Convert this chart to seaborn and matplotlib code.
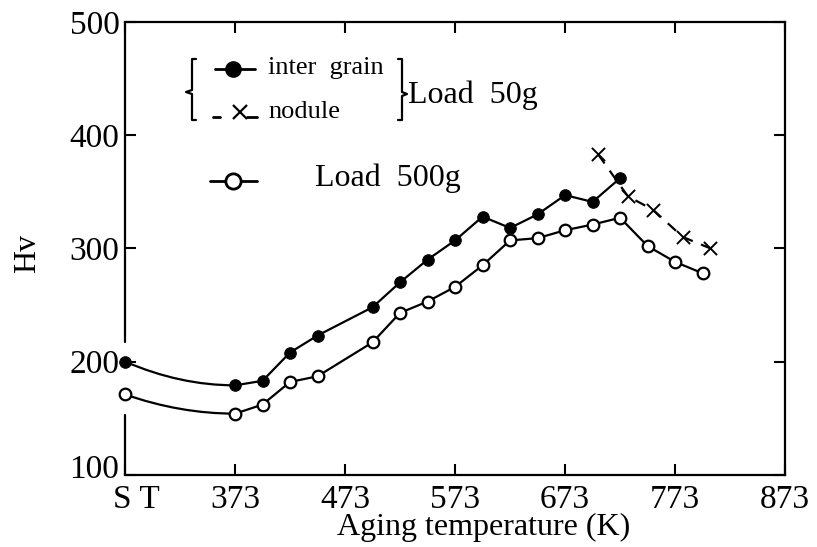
import numpy as np
import pandas as pd
import seaborn as sns
import matplotlib.pyplot as plt
import matplotlib.transforms as mtransforms
from matplotlib.path import Path
from matplotlib.patches import PathPatch
from matplotlib.lines import Line2D

# aging temperature (K); 273 is drawn as "S T"
temp_50g = [273, 373, 398, 423, 448, 498, 523, 548, 573, 598, 623, 648, 673, 698, 723]
hv_inter = [200, 179, 183, 208, 223, 248, 270, 290, 307, 328, 318, 330, 347, 341, 362]

temp_500g = [273, 373, 398, 423, 448, 498, 523, 548, 573, 598, 623, 648, 673, 698, 723, 748, 773, 798]
hv_500g = [171, 154, 162, 182, 187, 217, 243, 253, 266, 285, 307, 309, 316, 321, 327, 302, 288, 278]

temp_nodule = [703, 730, 753, 780, 805]
hv_nodule = [383, 346, 334, 310, 300]

xticks = [273, 373, 473, 573, 673, 773, 873]
xticklabels = ['S T', '373', '473', '573', '673', '773', '873']
yticks = [100, 200, 300, 400, 500]

sns.set_style('ticks')
plt.rcParams['font.family'] = ['Liberation Serif', 'DejaVu Serif']
for key in ['text.color', 'axes.labelcolor', 'xtick.color', 'ytick.color', 'axes.edgecolor']:
    plt.rcParams[key] = 'black'

fig = plt.figure(figsize=(8.17, 5.47), dpi=100)
ax = fig.add_axes([0.153, 0.132, 0.808, 0.828])

inter = pd.DataFrame({'T': temp_50g, 'Hv': hv_inter})
load500 = pd.DataFrame({'T': temp_500g, 'Hv': hv_500g})
nodule = pd.DataFrame({'T': temp_nodule, 'Hv': hv_nodule})


def curve_start(df):
    # smooth bend from S T to the first aged point
    p0 = (df['T'][0], df['Hv'][0])
    p1 = (df['T'][1], df['Hv'][1])
    ctrl = ((p0[0] + p1[0]) / 2, p1[1])
    path = Path([p0, ctrl, p1], [Path.MOVETO, Path.CURVE3, Path.CURVE3])
    ax.add_patch(PathPatch(path, fill=False, lw=1.6, ec='black', zorder=2))


curve_start(inter)
curve_start(load500)

sns.lineplot(data=inter.iloc[1:], x='T', y='Hv', color='black', lw=1.6, sort=False, ax=ax, zorder=2)
sns.lineplot(data=load500.iloc[1:], x='T', y='Hv', color='black', lw=1.6, sort=False, ax=ax, zorder=2)
sns.lineplot(data=nodule, x='T', y='Hv', color='black', lw=1.6, sort=False, ax=ax,
             dashes=False, linestyle=(0, (5, 4)), zorder=2)

sns.scatterplot(data=inter, x='T', y='Hv', color='black', s=70, edgecolor='black',
                ax=ax, zorder=3, clip_on=False)
sns.scatterplot(data=load500, x='T', y='Hv', color='white', s=70, edgecolor='black', linewidth=1.6,
                ax=ax, zorder=3, clip_on=False)
sns.scatterplot(data=nodule, x='T', y='Hv', color='black', marker='x', s=90, linewidth=1.4,
                ax=ax, zorder=3, clip_on=False)

ax.set_xlim(273, 873)
ax.set_ylim(100, 500)
ax.set_xticks(xticks)
ax.set_xticklabels(xticklabels)
ax.set_yticks(yticks)
ax.tick_params(direction='in', length=8, width=1.5, top=True, right=True, labelsize=24)
ax.tick_params(axis='x', pad=7)
ax.tick_params(axis='y', pad=4)

for side in ['top', 'right', 'bottom']:
    ax.spines[side].set_linewidth(1.6)
# left axis is broken where the S T points sit
ax.spines['left'].set_visible(False)
ytr = ax.get_yaxis_transform()
ax.plot([0, 0], [500, 217], color='black', lw=1.6, transform=ytr, clip_on=False)
ax.plot([0, 0], [153, 100], color='black', lw=1.6, transform=ytr, clip_on=False)

# lift "100" a little so it clears "S T", and nudge "S T" right
lab100 = ax.yaxis.get_major_ticks()[0].label1
lab100.set_transform(lab100.get_transform() + mtransforms.ScaledTranslation(0, 6 / 72, fig.dpi_scale_trans))
lab_st = ax.xaxis.get_major_ticks()[0].label1
lab_st.set_transform(lab_st.get_transform() + mtransforms.ScaledTranslation(8 / 72, 0, fig.dpi_scale_trans))

ax.set_xlabel('Aging temperature (K)', fontsize=23)
ax.xaxis.set_label_coords(0.544, -0.085)
ax.set_ylabel('Hv', fontsize=23)
ax.yaxis.set_label_coords(-0.126, 0.488)

# hand-drawn key, positions in image pixels
W, H = 817, 547


def px(x, y):
    return x / W, 1 - y / H


def fig_line(xs, ys, **kw):
    pts = [px(x, y) for x, y in zip(xs, ys)]
    fig.add_artist(Line2D([p[0] for p in pts], [p[1] for p in pts], transform=fig.transFigure, **kw))


fig_line([215, 255], [69, 69], color='black', lw=2)
fig_line([233], [69], marker='o', ms=11, color='black', lw=0)
fig_line([213, 220], [117, 117], color='black', lw=2)
fig_line([240], [112], marker='x', ms=10, mew=1.6, color='black', lw=0)
fig_line([247, 257], [117, 117], color='black', lw=2)
fig_line([210, 257], [181, 181], color='black', lw=2)
fig_line([233], [181], marker='o', ms=11, mfc='white', mec='black', mew=2, color='black', lw=0)

# braces
fig_line([196, 192, 192, 186, 192, 192, 196], [59, 59, 90, 92, 94, 120, 120], color='black', lw=1.6)
fig_line([398, 402, 402, 407, 402, 402, 398], [59, 59, 92, 94, 96, 120, 120], color='black', lw=1.6)

fig.text(*px(268, 68), 'inter  grain', fontsize=19, va='center')
fig.text(*px(268, 112), 'nodule', fontsize=19, va='center')
fig.text(*px(408, 95), 'Load  50g', fontsize=23, va='center')
fig.text(*px(315, 178), 'Load  500g', fontsize=23, va='center')

plt.savefig('out.png', dpi=100)
